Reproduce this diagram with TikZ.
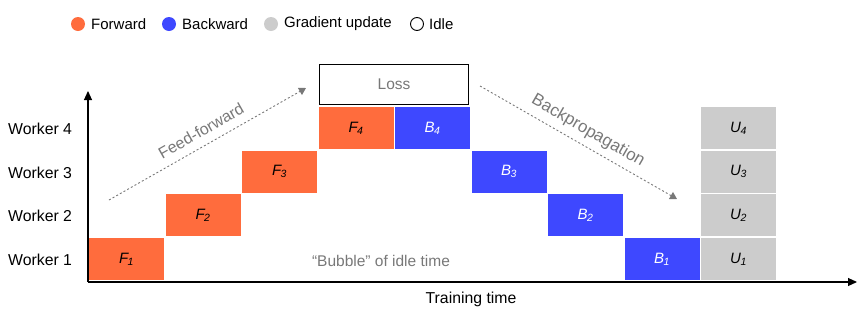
\documentclass[tikz,border=0pt]{standalone}
\usepackage{fontspec}
\setmainfont{Liberation Sans}
\usetikzlibrary{arrows.meta}
\definecolor{fwd}{RGB}{255,108,61}
\definecolor{bwd}{RGB}{62,72,255}
\definecolor{upd}{RGB}{204,204,204}
\definecolor{lbl}{RGB}{120,120,120}
\tikzset{
  cell/.style={minimum width=75pt, minimum height=42pt, inner sep=0pt, font=\fontsize{15}{15}\selectfont\itshape},
  fcell/.style={cell, fill=fwd, text=black},
  bcell/.style={cell, fill=bwd, text=white},
  ucell/.style={cell, fill=upd, text=black},
  worker/.style={font=\fontsize{15.8}{15.8}\selectfont, anchor=west, inner sep=0pt},
  legdot/.style={circle, minimum size=14pt, inner sep=0pt},
  legtxt/.style={font=\fontsize{15}{15}\selectfont, anchor=west, inner sep=0pt},
  flow/.style={draw=lbl, line width=0.9pt, dash pattern=on 2pt off 2.2pt, -{Triangle[width=8pt,length=7pt,fill=lbl]}},
  flowlbl/.style={font=\fontsize{16}{16}\selectfont, text=lbl, inner sep=0pt},
  axis/.style={line width=1.1pt, -{Triangle[width=8pt,length=9pt]}}
}
\newcommand{\lab}[2]{#1\textsubscript{\kern-0.5pt #2}}
\begin{document}
\begin{tikzpicture}[x=1pt,y=-1pt]
\useasboundingbox (0,0) rectangle (867,322);
% legend
\node[legdot, fill=fwd] (lf) at (78,24) {};
\node[legtxt] (tf) at (91,24) {Forward};
\node[legdot, fill=bwd] (lb) at (169,24) {};
\node[legtxt] (tb) at (182,24) {Backward};
\node[legdot, fill=upd] (lg) at (271,24) {};
\node[legtxt] (tg) at (284,24) {Gradient update};
\node[legdot, draw=black, line width=0.9pt, fill=white, minimum size=13pt] (li) at (417,24) {};
\node[legtxt] (ti) at (429,24) {Idle};
% workers
\node[worker] (w4) at (8,129) {Worker 4};
\node[worker] (w3) at (8,173) {Worker 3};
\node[worker] (w2) at (8,216) {Worker 2};
\node[worker] (w1) at (8,260) {Worker 1};
% axes
\coordinate (o) at (88,282);
\coordinate (xe) at (857,282);
\coordinate (ye) at (88,91);
\draw[axis] (o) -- (xe);
\draw[axis] (o) -- (ye);
\node[font=\fontsize{15.8}{15.8}\selectfont] (tt) at (471,299) {Training time};
% cells
\node[fcell] (F1) at (126.5,259) {\lab{F}{1}};
\node[fcell] (F2) at (203,215.3) {\lab{F}{2}};
\node[fcell] (F3) at (279.5,171.6) {\lab{F}{3}};
\node[fcell] (F4) at (356,128) {\lab{F}{4}};
\node[bcell] (B4) at (432.5,128) {\lab{B}{4}};
\node[bcell] (B3) at (509,171.6) {\lab{B}{3}};
\node[bcell] (B2) at (585.5,215.3) {\lab{B}{2}};
\node[bcell] (B1) at (662,259) {\lab{B}{1}};
\node[ucell] (U4) at (738.5,128) {\lab{U}{4}};
\node[ucell] (U3) at (738.5,171.6) {\lab{U}{3}};
\node[ucell] (U2) at (738.5,215.3) {\lab{U}{2}};
\node[ucell] (U1) at (738.5,259) {\lab{U}{1}};
% loss
\node[draw=black, line width=1pt, minimum width=149pt, minimum height=40pt, inner sep=0pt, text=lbl, font=\fontsize{15.5}{15.5}\selectfont] (loss) at (394,84.5) {Loss};
% bubble
\node[flowlbl, font=\fontsize{15.5}{15.5}\selectfont] (bub) at (381,261) {``Bubble'' of idle time};
% flows
\coordinate (ffs) at (109,200);
\coordinate (ffe) at (306,88);
\draw[flow] (ffs) -- (ffe);
\node[flowlbl, rotate=29.5] (ffl) at (201,131) {Feed-forward};
\coordinate (bps) at (480,86);
\coordinate (bpe) at (677,199);
\draw[flow] (bps) -- (bpe);
\node[flowlbl, rotate=-30, font=\fontsize{17}{17}\selectfont] (bpl) at (588,131) {Backpropagation};
\end{tikzpicture}
\end{document}
